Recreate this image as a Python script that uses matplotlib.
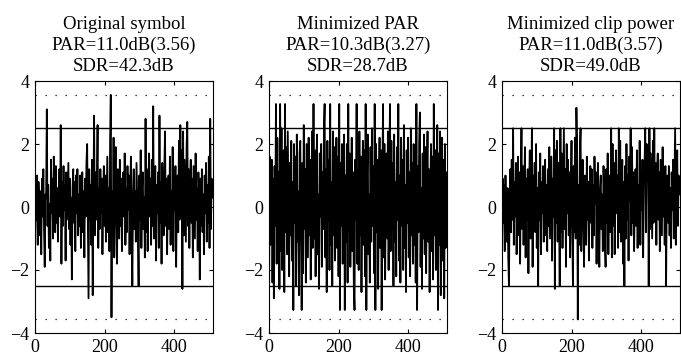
import numpy as np
import matplotlib
matplotlib.use('Agg')
from matplotlib import pyplot as plt

plt.rcParams['font.family'] = ['Liberation Serif', 'DejaVu Serif']

# sample index of every second point of the 512-sample symbol
n = np.arange(0, 512, 2)

original = [
    -1.8, 0.6, -0.4, 1.0, -1.2, 0.8, 0.2, -0.9, 0.5, -1.5, 0.9, -0.3, 1.2, -0.7, -1.9, 0.4,
    0.3, 3.1, -0.6, 0.7, -1.3, 0.1, -1.7, 1.5, -0.2, 0.9, -1.0, 1.6, 0.2, -0.8, 1.3, -0.5,
    0.6, -1.1, 0.4, 1.2, -0.3, 2.6, -1.8, 0.8, -0.6, 1.3, -0.1, 0.7, -1.7, 1.1, -0.4, 0.5,
    1.4, -0.7, 0.9, -1.2, 0.3, -2.3, 0.6, 1.2, -0.5, 0.8, -1.4, 1.0, -0.2, 1.2, -0.9, 0.4,
    -0.6, 1.0, -1.3, 0.2, 1.1, -0.8, 0.5, -1.6, 0.9, -0.3, 1.4, 2.0, -0.5, -2.9, 1.2, -0.4,
    0.7, -1.2, 1.5, -2.8, 0.3, 2.9, -0.9, 1.1, -0.4, 0.8, 2.6, -1.3, 0.6, -0.7, 1.2, -0.2,
    0.9, -1.5, 0.4, 1.3, -0.6, 1.0, -1.1, 0.2, 1.6, -0.8, 0.6, -1.4, 2.1, 3.56, -3.5, 0.5,
    -0.9, 2.2, -1.6, 0.8, 1.9, -0.4, -1.8, 1.2, 0.3, -1.0, 1.5, -0.6, 0.9, -1.4, 0.4, 1.1,
    -0.3, 1.7, -1.2, 0.6, -0.8, 1.3, -0.1, 1.0, -1.5, 0.7, 1.6, -0.9, -2.5, 0.4, 1.2, -0.7,
    0.5, -1.1, 1.4, 0.2, -0.9, -2.5, 1.0, -0.4, 1.8, -1.3, 0.6, 1.1, -0.7, 0.3, -1.6, 2.8,
    -0.8, 1.2, -1.4, 0.5, 1.7, -0.3, 0.9, -1.2, 1.5, -0.6, 3.2, -1.0, 0.4, 1.3, -1.7, 0.7,
    -0.2, 1.1, -1.3, 2.9, -0.5, 0.8, -1.8, 1.4, 0.1, -0.9, 1.2, 2.4, -0.6, 0.9, -1.5, 0.3,
    1.0, -0.7, 1.6, -1.2, 0.5, -0.3, 1.9, -1.4, 0.8, -0.1, 1.3, -1.9, 0.6, 1.0, -0.8, 2.1,
    -0.4, 2.6, 0.7, 1.8, -2.6, 2.4, -0.9, 1.5, 0.2, -1.1, 1.9, 2.7, -0.6, 1.2, -1.3, 0.8,
    1.5, -0.5, 0.9, -1.6, 1.3, 0.1, -1.0, 1.7, -0.4, 0.6, -1.4, 1.1, 0.3, -2.3, 0.9, -0.6,
    1.2, -0.8, 0.4, -1.5, 1.0, -0.2, 1.4, -1.1, 0.7, -0.5, 1.6, -1.3, 2.8, -0.7, 0.9, 0.3,
]

min_par = [
    -3.27, 1.6, -1.2, 0.4, 1.5, -2.4, 0.9, -2.9, 1.3, -0.6, 3.27, -1.8, 2.2, -0.3, 1.1, -2.6,
    3.27, -1.4, 2.5, -2.0, 0.7, 1.8, -2.7, 3.27, -0.8, 1.9, -1.5, 2.4, 0.2, -2.2, 1.4, -0.9,
    2.1, -1.7, 0.8, -3.27, 2.0, -0.5, 1.6, -2.5, 2.3, -1.1, 0.5, -2.8, 1.7, 2.1, -1.0, -3.27,
    1.4, -2.1, 2.6, -0.7, 1.2, -2.4, 2.0, 0.3, -1.6, 2.2, -0.9, 1.5, -2.3, 0.6, 2.4, -1.3,
    3.27, -1.0, 1.8, -2.2, 0.9, 2.3, -1.5, 0.4, -2.6, 1.7, -0.3, 2.0, -1.9, 1.1, -0.7, 2.5,
    3.27, -1.6, 1.2, -2.7, 2.1, -0.4, 1.5, -2.0, 3.27, -1.2, 0.8, -2.5, 2.4, -0.9, 1.9, -1.7,
    0.6, 2.2, -1.3, 1.6, -2.2, 3.27, -3.27, 1.4, -0.6, 2.0, -1.8, 0.9, 2.3, -3.27, 1.0, -1.1,
    2.0, -2.4, 3.27, -0.8, 1.7, -1.9, 0.5, 2.2, -1.4, 1.1, -2.6, -3.27, 1.5, -0.4, 3.27, -1.8,
    1.2, -2.0, 2.4, -0.9, 1.6, -2.7, 0.7, 2.1, -1.2, 1.8, -2.2, 3.27, -3.27, 0.9, 2.3, -1.5,
    0.4, -2.4, 1.9, -1.1, 2.5, -0.6, 1.3, -2.1, 3.27, -3.27, 2.0, -0.8, 1.5, -2.6, 0.7, 2.2,
    -1.3, 1.8, -3.27, 0.9, 3.27, -1.6, 2.0, -2.3, 0.5, 1.7, -1.0, 2.4, -2.0, 1.2, 3.27, -1.4,
    2.1, -0.7, 1.4, -2.5, 2.3, -1.1, 0.8, -2.2, 1.9, -0.4, 3.27, -1.7, 1.0, -2.4, 2.2, -0.6,
    1.5, -2.0, 2.6, -1.3, 0.7, -2.7, 1.8, -0.5, 2.2, -1.6, 1.1, -2.2, 2.5, -0.9, 1.4, -1.8,
    2.0, -1.2, 1.6, -2.4, 3.27, -3.27, 1.3, -0.8, 2.1, 3.0, -1.9, 0.6, -2.6, 1.7, -1.0, 2.3,
    -1.5, 1.9, -2.1, 0.8, 2.4, -1.1, 1.2, -2.7, 0.5, 2.0, -1.4, 1.6, -2.3, 3.27, -0.9, 1.8,
    -2.0, 1.3, 2.6, -3.27, 1.7, -1.2, 2.4, -2.8, 0.9, 2.2, -1.7, 1.5, -2.9, 2.0, -1.3, 1.1,
]

min_clip = [
    -1.9, 0.9, -0.5, 0.7, -1.4, 1.0, -0.2, -1.1, 0.6, -1.6, -2.5, 0.3, 1.2, -0.8, 1.5, -0.4,
    2.5, -1.2, 0.8, -0.3, 1.4, -1.5, 0.4, 1.6, -0.9, 1.1, -1.8, 0.6, 2.5, -0.7, 1.3, -1.2,
    0.5, 1.9, -1.6, 0.9, -0.4, 1.2, -2.1, 0.7, 1.8, -1.0, 0.3, 2.5, -1.9, 1.0, -0.6, 1.4,
    -0.8, 2.0, -1.3, 0.6, -2.5, 1.1, -0.4, 1.7, -1.5, 0.8, -0.2, 1.3, -1.1, 0.5, 1.5, -0.9,
    0.7, -1.4, 1.2, -0.6, 1.9, -1.0, 0.3, 1.6, -1.7, 0.9, -0.3, 2.5, -2.6, 1.8, -0.5, 2.1,
    -1.1, 1.4, 0.2, -2.5, 2.5, -0.8, 1.7, -1.3, 0.6, 2.5, -0.7, 1.2, -1.9, 2.0, -0.2, 1.5,
    -0.9, 1.1, -1.6, 0.8, 2.1, -0.5, -2.5, 1.3, -0.8, 2.2, -1.0, 3.15, 1.9, -3.57, 0.7, -1.2,
    1.8, 2.5, -1.4, 0.5, 1.5, -0.6, -1.9, 1.0, 0.2, -1.2, 1.6, -0.4, 0.8, -1.7, 0.6, 1.3,
    -0.5, 1.2, -1.3, 0.7, -0.9, 1.6, 0.1, 1.1, -1.8, 0.5, 1.4, -1.0, -1.9, 0.6, 1.0, -0.7,
    0.4, -1.4, 1.3, 0.3, -1.1, -1.9, 1.2, -0.5, 1.7, -1.5, 0.8, 1.0, -0.8, 2.5, -1.6, 2.0,
    -0.6, 1.4, -1.5, 0.6, 1.8, -0.2, 1.0, -1.3, 2.5, -0.8, 2.1, -1.1, 0.5, 1.5, -1.8, 0.8,
    -2.5, 1.3, -1.0, 2.0, -0.4, 1.0, -1.7, 1.6, 0.2, 2.5, -0.9, 1.9, -0.5, 1.1, -1.4, 0.4,
    1.2, -0.6, 1.8, -1.3, 0.7, -0.2, 2.1, -1.2, 1.0, -0.1, 1.5, -1.6, 0.9, 1.3, 2.5, -0.8,
    2.0, 0.8, 1.9, -2.5, 2.5, -0.7, 1.7, 0.4, -1.0, 2.1, -0.5, 2.5, -0.4, 1.4, -1.2, 1.0,
    1.7, -0.4, 1.1, -1.4, 1.5, 0.3, -0.9, 1.9, -0.3, 0.8, -1.2, 1.3, -2.5, 0.5, 1.0, -0.5,
    1.3, -0.9, 0.6, -1.3, 1.1, -0.1, 1.5, -1.0, 0.8, 2.5, -1.2, 0.7, 1.8, -0.6, 1.0, 0.4,
]

titles = [
    'Original symbol\nPAR=11.0dB(3.56)\nSDR=42.3dB',
    'Minimized PAR\nPAR=10.3dB(3.27)\nSDR=28.7dB',
    'Minimized clip power\nPAR=11.0dB(3.57)\nSDR=49.0dB',
]
clip_level = 2.5
peak_level = 3.56

fig = plt.figure(figsize=(6.81, 3.6), dpi=100)
lefts = [35, 269, 502]

for left, sig, title in zip(lefts, [original, min_par, min_clip], titles):
    ax = fig.add_axes([left / 681, 27 / 360, 178 / 681, 252 / 360])
    ax.plot(n, sig, color='black', linewidth=1.3)
    ax.axhline(clip_level, color='black', linewidth=1.0)
    ax.axhline(-clip_level, color='black', linewidth=1.0)
    ax.axhline(peak_level, color='black', linewidth=0.9, linestyle=(0, (1, 7)))
    ax.axhline(-peak_level, color='black', linewidth=0.9, linestyle=(0, (1, 7)))
    ax.set_xlim(0, 512)
    ax.set_ylim(-4, 4)
    ax.set_xticks([0, 200, 400])
    ax.set_yticks([-4, -2, 0, 2, 4])
    ax.tick_params(direction='in', top=True, right=True, labelsize=13, length=3, pad=4)
    ax.set_title(title, fontsize=13.5, linespacing=1.3, pad=7)

plt.savefig('out.png', dpi=100)
